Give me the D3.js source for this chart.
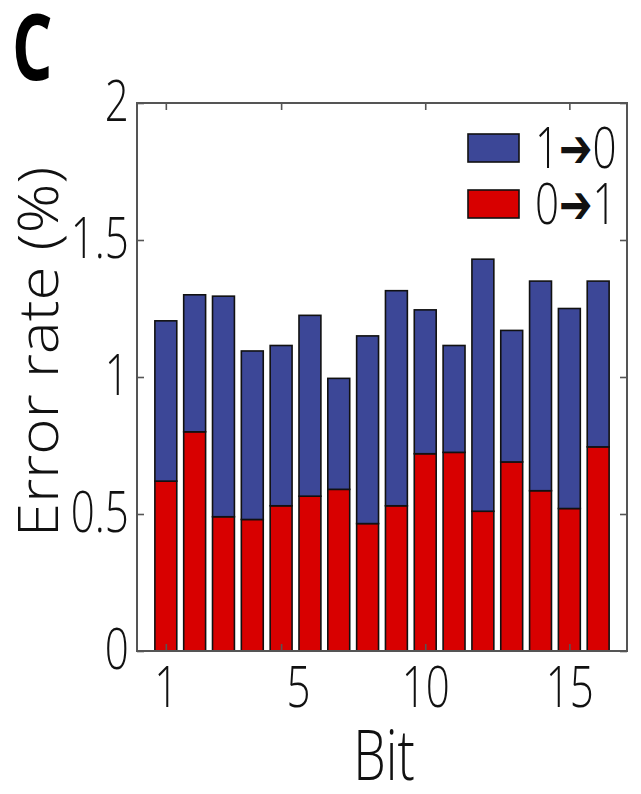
<!DOCTYPE html>
<html>
<head>
<meta charset="utf-8">
<script src="https://cdn.jsdelivr.net/npm/d3@7"></script>
<style>
  body { margin: 0; background: #fff; }
  svg { display: block; }
</style>
</head>
<body>
<script>
// Error rate per bit, stacked: 0->1 (red) at the bottom, 1->0 (blue) on top
const bits = [1, 2, 3, 4, 5, 6, 7, 8, 9, 10, 11, 12, 13, 14, 15, 16];
const rate01 = [0.62, 0.80, 0.49, 0.48, 0.53, 0.565, 0.59, 0.465, 0.53, 0.72, 0.725, 0.51, 0.69, 0.585, 0.52, 0.745];
const rate10 = [0.585, 0.50, 0.805, 0.615, 0.585, 0.66, 0.405, 0.685, 0.785, 0.525, 0.39, 0.92, 0.48, 0.765, 0.73, 0.605];
const seriesFrom = ["0", "1"];
const seriesTo = ["1", "0"];
const seriesColors = ["#d80000", "#3c4797"];
const xTicks = [1, 5, 10, 15];
const yTicks = [0, 0.5, 1, 1.5, 2];

const width = 641, height = 794;
const font = "'Open Sans', 'Noto Sans', sans-serif";
const sx = 0.74; // the figure's text is horizontally condensed

const table = bits.map((b, i) => ({ bit: b, r01: rate01[i], r10: rate10[i] }));
const stacked = d3.stack().keys(["r01", "r10"])(table);

const svg = d3.select("body").append("svg")
    .attr("width", width)
    .attr("height", height)
    .style("font-family", font)
    .style("font-weight", 300);

// Scales
const x = d3.scaleLinear().domain([0, 17]).range([137, 627]);
const y = d3.scaleLinear().domain([0, 2]).range([651, 103]);
const barW = (x(1) - x(0)) * 0.76;

// Bars
svg.append("g")
    .selectAll("g")
    .data(stacked)
    .join("g")
    .attr("fill", (d, i) => seriesColors[i])
    .selectAll("rect")
    .data(d => d)
    .join("rect")
    .attr("x", d => x(d.data.bit) - barW / 2)
    .attr("y", d => y(d[1]))
    .attr("width", barW)
    .attr("height", d => y(d[0]) - y(d[1]))
    .attr("stroke", "#111")
    .attr("stroke-width", 1.6);

// Axes, ticks pointing inward
const tickLen = 7;
const styleAxis = g => {
    g.select(".domain").remove();
    g.selectAll(".tick line").attr("stroke", "#555").attr("stroke-width", 1.6);
    g.selectAll(".tick text")
        .attr("fill", "#111")
        .style("font-family", font)
        .style("font-weight", 300)
        .style("font-size", "57px");
};

svg.append("g")
    .attr("transform", `translate(${x.range()[0]},0)`)
    .call(d3.axisLeft(y).tickValues(yTicks).tickSize(-tickLen).tickPadding(11).tickFormat(d3.format("")))
    .call(styleAxis)
    .call(g => g.selectAll(".tick text").attr("transform", `scale(${sx},1)`).attr("dy", "0.3em"));

svg.append("g")
    .attr("transform", `translate(${x.range()[1]},0)`)
    .call(d3.axisRight(y).tickValues(yTicks).tickSize(-tickLen).tickFormat(""))
    .call(styleAxis);

svg.append("g")
    .attr("transform", `translate(0,${y.range()[0]})`)
    .call(d3.axisBottom(x).tickValues(xTicks).tickSize(-tickLen).tickPadding(16))
    .call(styleAxis)
    .call(g => g.selectAll(".tick text")
        .attr("transform", `scale(${sx},1)`)
        .attr("dx", d => d === 5 ? 23 : 0));

svg.append("g")
    .attr("transform", `translate(0,${y.range()[1]})`)
    .call(d3.axisTop(x).tickValues(xTicks).tickSize(-tickLen).tickFormat(""))
    .call(styleAxis);

// Frame
svg.append("rect")
    .attr("x", x.range()[0])
    .attr("y", y.range()[1])
    .attr("width", x.range()[1] - x.range()[0])
    .attr("height", y.range()[0] - y.range()[1])
    .attr("fill", "none")
    .attr("stroke", "#555")
    .attr("stroke-width", 2);

// Legend (1->0 first, as in the figure)
const legend = svg.append("g");
[1, 0].forEach((k, i) => {
    const cy = 148 + i * 56;
    legend.append("rect")
        .attr("x", 468)
        .attr("y", cy - 14)
        .attr("width", 51)
        .attr("height", 28)
        .attr("fill", seriesColors[k])
        .attr("stroke", "#111")
        .attr("stroke-width", 1.6);
    const t = legend.append("text")
        .attr("transform", `translate(535,${cy + 20}) scale(${sx},1)`)
        .style("font-size", "57px")
        .attr("fill", "#111");
    t.append("tspan").text(seriesFrom[k]);
    t.append("tspan")
        .attr("dy", -1)
        .style("font-family", "'DejaVu Sans', sans-serif")
        .style("font-weight", "normal")
        .style("font-size", "54px")
        .text("➔");
    t.append("tspan").attr("dy", 1).text(seriesTo[k]);
});

// Axis labels
svg.append("text")
    .attr("transform", `translate(384,780) scale(${sx},1)`)
    .attr("text-anchor", "middle")
    .style("font-size", "70px")
    .attr("fill", "#111")
    .text("Bit");

svg.append("text")
    .attr("transform", "translate(58,352) rotate(-90) scale(1,0.9)")
    .attr("text-anchor", "middle")
    .style("font-size", "62px")
    .attr("fill", "#111")
    .text("Error rate (%)");

// Panel letter
svg.append("text")
    .attr("transform", `translate(12,80) scale(0.7,1)`)
    .style("font-size", "91px")
    .style("font-weight", "bold")
    .attr("fill", "#000")
    .text("C");
</script>
</body>
</html>
